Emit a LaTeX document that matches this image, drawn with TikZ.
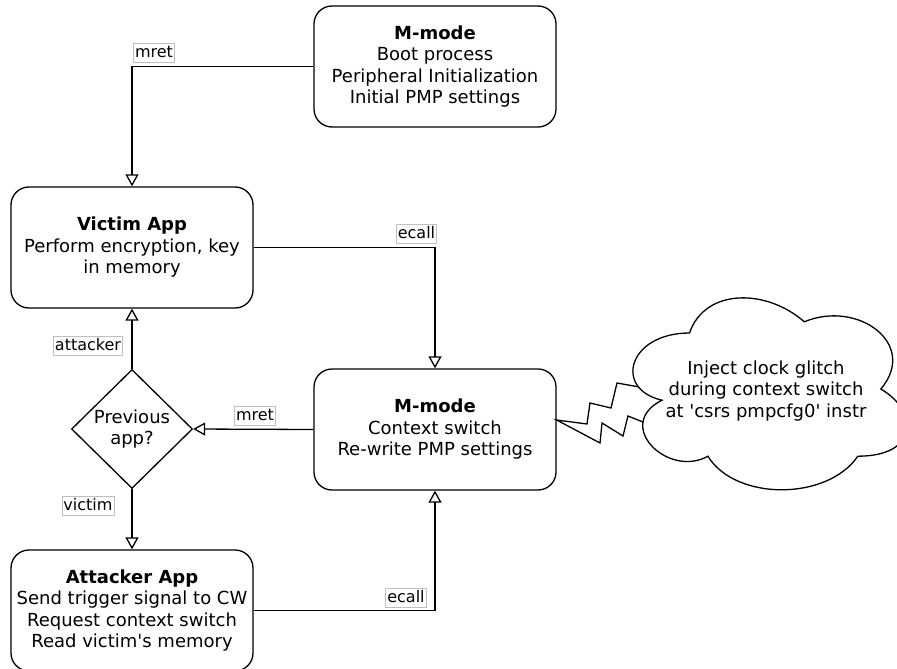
\documentclass[tikz,border=0pt]{standalone}
\usepackage{fontspec}
\setmainfont{DejaVu Sans}
\usetikzlibrary{arrows.meta,shapes.geometric}
\begin{document}
\begin{tikzpicture}[x=1pt,y=-1pt,
  box/.style={draw, line width=1.3pt, rounded corners=18pt, fill=white,
    minimum width=242pt, minimum height=121pt, align=center, inner sep=0pt,
    font=\fontsize{18}{21.5}\selectfont},
  decision/.style={draw, diamond, line width=1.3pt, fill=white, inner sep=0pt,
    minimum width=121pt, minimum height=119pt, align=center,
    font=\fontsize{18}{21.5}\selectfont},
  lbl/.style={draw=black!25, line width=0.8pt, fill=white, inner xsep=1.5pt, inner ysep=1.5pt,
    text height=12pt, text depth=3.5pt, font=\fontsize{16}{19}\selectfont},
  arr/.style={line width=1.3pt, -{Triangle[open, length=12pt, width=13pt, line width=1.3pt]}},
  bolt/.style={line width=1.3pt, line join=miter},
  cloudtext/.style={align=center, font=\fontsize{18}{21.5}\selectfont}]
\useasboundingbox (0,0) rectangle (897,669);

% boxes
\node[box] (mtop) at (435,66.5) {\textbf{M-mode}\\Boot process\\Peripheral Initialization\\Initial PMP settings};
\node[box] (victim) at (132,247.5) {\textbf{Victim App}\\Perform encryption, key\\in memory};
\node[box] (mmid) at (435,429.5) {\textbf{M-mode}\\Context switch\\Re-write PMP settings};
\node[box] (attacker) at (132,610.5) {\textbf{Attacker App}\\Send trigger signal to CW\\Request context switch\\Read victim\textquotesingle s memory};
\node[decision] (dec) at (132,429) {Previous\\app?};

% connectors
\draw[arr] (mtop.west) -| (victim.north);
\draw[arr] (victim.east) -| (mmid.north);
\draw[arr] (mmid.west) -- (dec.east);
\draw[arr] (dec.north) -- (victim.south);
\draw[arr] (dec.south) -- (attacker.north);
\draw[arr] (attacker.east) -| (mmid.south);

% labels
\node[lbl] (l1) at (154,53) {mret};
\node[lbl] (l2) at (416.5,234) {ecall};
\node[lbl] (l3) at (255,416) {mret};
\node[lbl] (l4) at (88,346) {attacker};
\node[lbl] (l5) at (88,506) {victim};
\node[lbl] (l6) at (406,598) {ecall};

% lightning bolt
\coordinate (bstart) at (mmid.east |- 0,420);
\draw[bolt] (645,388) -- (617,383) -- (611,408) -- (590,403) -- (587,424) -- (bstart)
  -- (600,443) -- (602,423) -- (623,436) -- (628,416) -- (648,424);

% cloud (x0=613, y0=277, w=306, h=224)
\draw[line width=1.3pt, fill=white] (689.5,333) .. controls (628.3,333) and (613,389) .. (662,400.2)
  .. controls (613,424.84) and (668.1,478.6) .. (707.9,456.2)
  .. controls (735.4,501) and (827.2,501) .. (857.8,456.2)
  .. controls (919,456.2) and (919,411.4) .. (880.8,389)
  .. controls (919,344.2) and (857.8,299.4) .. (804.3,321.8)
  .. controls (766,288.2) and (704.8,288.2) .. (689.5,333) -- cycle;
\node[cloudtext] (ctext) at (766,391) {Inject clock glitch\\during context switch\\at \textquotesingle csrs pmpcfg0\textquotesingle{} instr};
\end{tikzpicture}
\end{document}
